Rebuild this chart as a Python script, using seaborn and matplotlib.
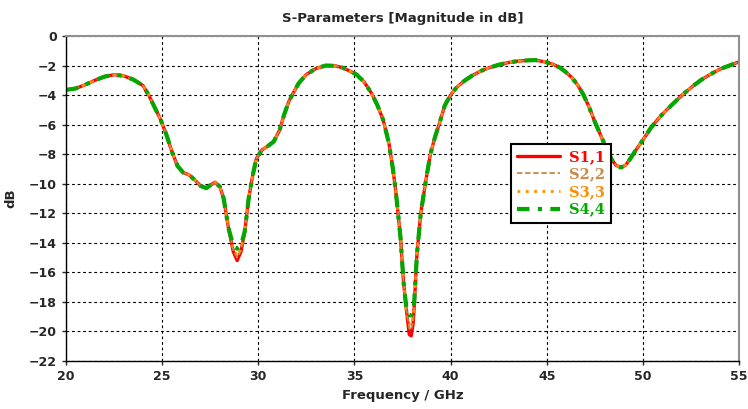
import matplotlib
matplotlib.use("Agg")
import matplotlib.pyplot as plt
import seaborn as sns
import pandas as pd

# frequency points (GHz)
freq = [20.0, 20.5, 21.0, 21.5, 22.0, 22.5, 23.0, 23.5, 24.0, 24.3, 24.6, 24.9,
        25.2, 25.5, 25.8, 26.1, 26.4, 26.7, 27.0, 27.3, 27.5, 27.75, 28.0, 28.2,
        28.45, 28.7, 28.9, 29.1, 29.3, 29.5, 29.7, 29.9, 30.2, 30.5, 30.8, 31.1,
        31.35, 31.6, 31.8, 32.1, 32.5, 33.0, 33.5, 34.0, 34.4, 34.8, 35.1, 35.5,
        35.9, 36.2, 36.5, 36.8, 37.0, 37.15, 37.4, 37.55, 37.7, 37.85, 37.95, 38.05,
        38.1, 38.25, 38.45, 38.7, 38.95, 39.2, 39.4, 39.7, 40.0, 40.3, 40.7, 41.1,
        41.6, 42.0, 42.5, 43.0, 43.5, 44.0, 44.4, 44.9, 45.3, 45.7, 46.0, 46.3,
        46.6, 46.9, 47.2, 47.5, 47.8, 48.1, 48.4, 48.6, 48.85, 49.1, 49.35, 49.7,
        50.0, 50.4, 50.8, 51.2, 51.6, 52.0, 52.5, 53.0, 53.5, 54.0, 54.5, 55.0]

s11 = [-3.65, -3.55, -3.3, -3.0, -2.75, -2.62, -2.7, -2.95, -3.35, -4.0, -4.8, -5.6,
       -6.6, -7.8, -8.8, -9.25, -9.4, -9.75, -10.15, -10.3, -10.1, -9.9, -10.2, -11.0,
       -13.0, -14.6, -15.2, -14.6, -13.2, -11.0, -9.5, -8.3, -7.7, -7.45, -7.15, -6.4,
       -5.3, -4.4, -3.9, -3.2, -2.6, -2.2, -2.0, -2.02, -2.15, -2.4, -2.6, -3.1,
       -3.9, -4.7, -5.7, -7.3, -9.0, -10.5, -13.7, -16.6, -18.5, -20.2, -20.3, -19.5,
       -18.5, -14.8, -12.0, -9.9, -8.0, -6.8, -6.0, -4.7, -4.0, -3.5, -3.05, -2.7,
       -2.35, -2.15, -1.95, -1.8, -1.7, -1.65, -1.63, -1.75, -1.9, -2.15, -2.45, -2.8,
       -3.3, -3.95, -4.8, -5.8, -6.7, -7.6, -8.4, -8.75, -8.9, -8.75, -8.3, -7.6,
       -7.05, -6.25, -5.6, -5.05, -4.55, -4.05, -3.5, -3.0, -2.6, -2.25, -2.0, -1.75]

s22 = [-3.65, -3.55, -3.3, -3.0, -2.75, -2.62, -2.7, -2.95, -3.35, -4.0, -4.8, -5.6,
       -6.6, -7.8, -8.8, -9.25, -9.4, -9.75, -10.15, -10.3, -10.1, -9.9, -10.2, -11.0,
       -13.0, -14.5, -15.0, -14.5, -13.2, -11.0, -9.5, -8.3, -7.7, -7.45, -7.15, -6.4,
       -5.3, -4.4, -3.9, -3.2, -2.6, -2.2, -2.0, -2.02, -2.15, -2.4, -2.6, -3.1,
       -3.9, -4.7, -5.7, -7.3, -9.0, -10.5, -13.7, -16.6, -18.5, -19.8, -19.9, -19.3,
       -18.5, -14.8, -12.0, -9.9, -8.0, -6.8, -6.0, -4.7, -4.0, -3.5, -3.05, -2.7,
       -2.35, -2.15, -1.95, -1.8, -1.7, -1.65, -1.63, -1.75, -1.9, -2.15, -2.45, -2.8,
       -3.3, -3.95, -4.8, -5.8, -6.7, -7.6, -8.4, -8.75, -8.9, -8.75, -8.3, -7.6,
       -7.05, -6.25, -5.6, -5.05, -4.55, -4.05, -3.5, -3.0, -2.6, -2.25, -2.0, -1.75]

s33 = [-3.65, -3.55, -3.3, -3.0, -2.75, -2.62, -2.7, -2.95, -3.35, -4.0, -4.8, -5.6,
       -6.6, -7.8, -8.8, -9.25, -9.4, -9.75, -10.15, -10.3, -10.1, -9.9, -10.2, -11.0,
       -13.0, -14.4, -14.9, -14.4, -13.2, -11.0, -9.5, -8.3, -7.7, -7.45, -7.15, -6.4,
       -5.3, -4.4, -3.9, -3.2, -2.6, -2.2, -2.0, -2.02, -2.15, -2.4, -2.6, -3.1,
       -3.9, -4.7, -5.7, -7.3, -9.0, -10.5, -13.7, -16.6, -18.5, -19.5, -19.6, -19.1,
       -18.5, -14.8, -12.0, -9.9, -8.0, -6.8, -6.0, -4.7, -4.0, -3.5, -3.05, -2.7,
       -2.35, -2.15, -1.95, -1.8, -1.7, -1.65, -1.63, -1.75, -1.9, -2.15, -2.45, -2.8,
       -3.3, -3.95, -4.8, -5.8, -6.7, -7.6, -8.4, -8.75, -8.9, -8.75, -8.3, -7.6,
       -7.05, -6.25, -5.6, -5.05, -4.55, -4.05, -3.5, -3.0, -2.6, -2.25, -2.0, -1.75]

s44 = [-3.65, -3.55, -3.3, -3.0, -2.75, -2.62, -2.7, -2.95, -3.35, -4.0, -4.8, -5.6,
       -6.6, -7.8, -8.8, -9.25, -9.4, -9.75, -10.15, -10.3, -10.1, -9.9, -10.2, -11.0,
       -13.0, -14.2, -14.4, -14.2, -13.2, -11.0, -9.5, -8.3, -7.7, -7.45, -7.15, -6.4,
       -5.3, -4.4, -3.9, -3.2, -2.6, -2.2, -2.0, -2.02, -2.15, -2.4, -2.6, -3.1,
       -3.9, -4.7, -5.7, -7.3, -9.0, -10.5, -13.7, -16.6, -18.4, -18.9, -18.9, -18.7,
       -18.2, -14.8, -12.0, -9.9, -8.0, -6.8, -6.0, -4.7, -4.0, -3.5, -3.05, -2.7,
       -2.35, -2.15, -1.95, -1.8, -1.7, -1.65, -1.63, -1.75, -1.9, -2.15, -2.45, -2.8,
       -3.3, -3.95, -4.8, -5.8, -6.7, -7.6, -8.4, -8.75, -8.9, -8.75, -8.3, -7.6,
       -7.05, -6.25, -5.6, -5.05, -4.55, -4.05, -3.5, -3.0, -2.6, -2.25, -2.0, -1.75]

labels = ["S1,1", "S2,2", "S3,3", "S4,4"]
colors = ["#ff0000", "#c8894a", "#ff8c00", "#00a800"]

sns.set_style("white")
plt.rcParams['font.family'] = ['DejaVu Sans']

fig = plt.figure(figsize=(7.48, 4.09), dpi=100)
ax = fig.add_axes([66 / 748, 1 - 361 / 409, 673 / 748, 325 / 409])

df = pd.DataFrame({"freq": freq, "S1,1": s11, "S2,2": s22, "S3,3": s33, "S4,4": s44})

sns.lineplot(data=df, x="freq", y="S1,1", ax=ax, color=colors[0], lw=2.4,
             label=labels[0])
sns.lineplot(data=df, x="freq", y="S2,2", ax=ax, color=colors[1], lw=1.3,
             linestyle=(0, (3, 1.5)), label=labels[1])
sns.lineplot(data=df, x="freq", y="S3,3", ax=ax, color=colors[2], lw=2.0,
             linestyle=(0, (1, 2)), label=labels[2])
sns.lineplot(data=df, x="freq", y="S4,4", ax=ax, color=colors[3], lw=3.0,
             linestyle=(0, (3, 2, 1, 2)), label=labels[3])

ax.set_xlim(20, 55)
ax.set_ylim(-22, 0)
ax.set_xticks(range(20, 56, 5))
ax.set_yticks(range(-22, 1, 2))
ax.grid(True, color="black", linestyle=(0, (2.5, 2.5)), linewidth=0.8)
ax.tick_params(axis="both", labelsize=9, length=3, direction="out", width=1)
for lab in ax.get_xticklabels() + ax.get_yticklabels():
    lab.set_fontweight("bold")
ax.xaxis.set_ticks_position("bottom")
ax.yaxis.set_ticks_position("left")

for side in ["left", "bottom"]:
    ax.spines[side].set_color("black")
    ax.spines[side].set_linewidth(1.0)
for side in ["top", "right"]:
    ax.spines[side].set_color("#909090")
    ax.spines[side].set_linewidth(1.5)

ax.set_title("S-Parameters [Magnitude in dB]", fontsize=9.5, fontweight="bold", pad=10)
ax.set_xlabel("Frequency / GHz", fontsize=9.5, fontweight="bold", labelpad=4)
ax.set_ylabel("dB", fontsize=9.5, fontweight="bold", labelpad=8)

leg = ax.legend(loc="upper left", bbox_to_anchor=(0.661, 0.668), borderaxespad=0,
                fancybox=False, framealpha=1, edgecolor="black", handlelength=3.0,
                handletextpad=0.6, borderpad=0.4, labelspacing=0.25,
                labelcolor=colors,
                prop={"family": "DejaVu Serif", "weight": "bold", "size": 10.5})
leg.get_frame().set_linewidth(1.5)

fig.savefig("out.png", dpi=100)
